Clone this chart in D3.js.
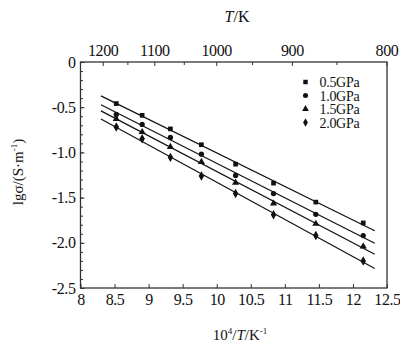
<!DOCTYPE html>
<html>
<head>
<meta charset="utf-8">
<script src="https://cdn.jsdelivr.net/npm/d3@7"></script>
<style>
  body { margin: 0; background: #fff; }
  svg text { font-family: "Liberation Serif", "Times New Roman", serif; fill: #111; }
</style>
</head>
<body>
<div id="chart"></div>
<script>
const invT = [8.525, 8.905, 9.32, 9.775, 10.277, 10.834, 11.455, 12.151]
const series = ["0.5GPa", "1.0GPa", "1.5GPa", "2.0GPa"]
const s05 = [-0.46, -0.59, -0.74, -0.915, -1.13, -1.34, -1.55, -1.78]
const s10 = [-0.58, -0.69, -0.835, -1.02, -1.255, -1.455, -1.685, -1.92]
const s15 = [-0.63, -0.775, -0.94, -1.105, -1.335, -1.565, -1.79, -2.04]
const s20 = [-0.72, -0.85, -1.055, -1.26, -1.455, -1.69, -1.92, -2.2]
const symbols = [d3.symbolSquare, d3.symbolCircle, d3.symbolTriangle, d3.symbolDiamond]
const topTicks = [1200, 1100, 1000, 900, 800]
const topMinor = [1150, 1050, 950, 850]
const fitRange = [8.3, 12.32]

const values = [s05, s10, s15, s20]

const totalW = 400, totalH = 351
const margin = { left: 80.5, top: 62, right: 13, bottom: 63 }
const width = totalW - margin.left - margin.right
const height = totalH - margin.top - margin.bottom

const svg = d3.select("#chart").append("svg")
    .attr("width", totalW)
    .attr("height", totalH)

const g = svg.append("g").attr("transform", `translate(${margin.left}, ${margin.top})`)

const x = d3.scaleLinear().domain([8, 12.5]).range([0, width])
const y = d3.scaleLinear().domain([-2.5, 0]).range([height, 0])

// frame
g.append("rect")
    .attr("width", width).attr("height", height)
    .attr("fill", "none").attr("stroke", "#333").attr("stroke-width", 1.3)

// bottom axis
const xAxis = d3.axisBottom(x).tickValues(d3.range(8, 12.51, 0.5)).tickSize(-4).tickPadding(6)
    .tickFormat(d => d3.format("")(d))
g.append("g").attr("transform", `translate(0, ${height})`).call(xAxis)
    .call(a => a.select(".domain").remove())

// left axis, major + minor
const yMinor = d3.axisLeft(y).tickValues(d3.range(-2.5, 0.001, 0.1)).tickSize(-2.5).tickFormat("")
g.append("g").call(yMinor).call(a => a.select(".domain").remove())
const yAxis = d3.axisLeft(y).tickValues(d3.range(-2.5, 0.001, 0.5)).tickSize(-4).tickPadding(5)
    .tickFormat(d => d === 0 ? "0" : d3.format(".1f")(d).replace("−", "-"))
g.append("g").call(yAxis).call(a => a.select(".domain").remove())

// top axis in temperature
const tx = t => x(1e4 / t)
const topG = g.append("g")
topG.selectAll(".maj").data(topTicks).join("line")
    .attr("x1", tx).attr("x2", tx).attr("y1", 0).attr("y2", 4)
    .attr("stroke", "#333")
topG.selectAll(".min").data(topMinor).join("line")
    .attr("x1", tx).attr("x2", tx).attr("y1", 0).attr("y2", 3)
    .attr("stroke", "#333")
topG.selectAll("text").data(topTicks).join("text")
    .attr("x", tx).attr("y", -6)
    .attr("text-anchor", "middle")
    .style("font-size", "16px")
    .style("letter-spacing", "-0.4px")
    .text(d => d)

g.selectAll(".tick text").style("font-size", "16px").style("letter-spacing", "-0.4px")
g.selectAll(".tick line").attr("stroke", "#333")

// fitted lines
const fit = (xs, ys) => {
    const mx = d3.mean(xs), my = d3.mean(ys)
    const b = d3.sum(xs, (v, i) => (v - mx) * (ys[i] - my)) / d3.sum(xs, v => (v - mx) ** 2)
    return v => my + b * (v - mx)
}
values.forEach((ys, i) => {
    const f = fit(invT, ys)
    g.append("line")
        .attr("x1", x(fitRange[0])).attr("y1", y(f(fitRange[0])))
        .attr("x2", x(fitRange[1])).attr("y2", y(f(fitRange[1])))
        .attr("stroke", "#111").attr("stroke-width", 1.2)
})

// points
values.forEach((ys, i) => {
    g.selectAll(".p" + i).data(ys).join("path")
        .attr("transform", (d, j) => `translate(${x(invT[j])}, ${y(d)})`)
        .attr("d", d3.symbol().type(symbols[i]).size(i === 3 ? 26 : 22))
        .attr("fill", "#111")
})

// legend
const legend = g.append("g").attr("transform", "translate(225, 20)")
series.forEach((s, i) => {
    legend.append("path")
        .attr("transform", `translate(0, ${i * 13.5})`)
        .attr("d", d3.symbol().type(symbols[i]).size(20))
        .attr("fill", "#111")
    legend.append("text")
        .attr("x", 14).attr("y", i * 13.5 + 5)
        .style("font-size", "14px")
        .style("letter-spacing", "-0.3px")
        .text(s)
})

// axis titles
const xt = svg.append("text")
    .attr("x", 240).attr("y", 340)
    .attr("text-anchor", "middle")
    .style("font-size", "15px")
xt.append("tspan").text("10")
xt.append("tspan").attr("dy", -6).style("font-size", "9px").text("4")
xt.append("tspan").attr("dy", 6).text("/")
xt.append("tspan").style("font-style", "italic").text("T")
xt.append("tspan").text("/K")
xt.append("tspan").attr("dy", -6).style("font-size", "9px").text("-1")

const tt = svg.append("text")
    .attr("x", 237).attr("y", 22)
    .attr("text-anchor", "middle")
    .style("font-size", "16px")
tt.append("tspan").style("font-style", "italic").text("T")
tt.append("tspan").text("/K")

const yt = svg.append("text")
    .attr("transform", "translate(23, 172) rotate(-90)")
    .attr("text-anchor", "middle")
    .style("font-size", "15px")
yt.append("tspan").text("lgσ/(S·m")
yt.append("tspan").attr("dy", -6).style("font-size", "9px").text("-1")
yt.append("tspan").attr("dy", 6).text(")")
</script>
</body>
</html>
